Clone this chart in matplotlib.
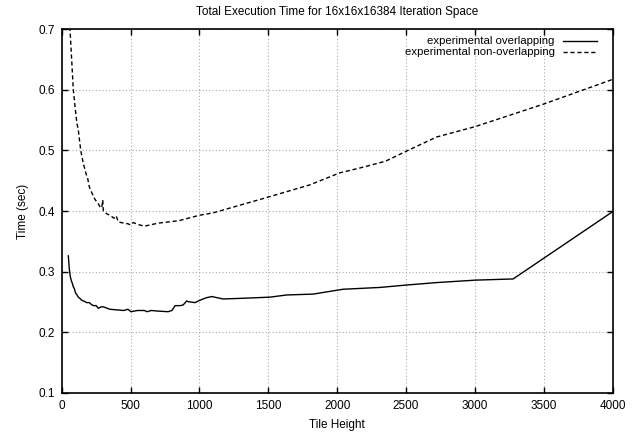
import matplotlib
matplotlib.use("Agg")
import matplotlib.pyplot as plt
from matplotlib.lines import Line2D

plt.rcParams['font.family'] = ['Liberation Sans', 'DejaVu Sans']

# Data
tile_over = [48, 55, 62, 70, 78, 84, 92, 100, 110, 120, 132, 145, 155, 165, 181, 200, 215,
             230, 250, 266, 285, 302, 350, 400, 450, 480,
             503, 550, 600, 620, 650, 700, 772, 800, 823, 859, 881, 907, 919, 968, 1004, 1050,
             1089, 1171, 1300, 1512, 1633, 1825, 2042, 2310, 2505, 2722, 3000, 3277, 4000]
time_over = [0.326, 0.305, 0.292, 0.285, 0.280, 0.275, 0.272, 0.265, 0.262, 0.258, 0.256,
             0.253, 0.252, 0.251, 0.249, 0.249, 0.246, 0.244, 0.244, 0.2396, 0.242, 0.242,
             0.238, 0.237, 0.236, 0.238, 0.234, 0.236, 0.236, 0.234, 0.236, 0.235, 0.234,
             0.236, 0.244, 0.244, 0.245, 0.2516, 0.2505, 0.249, 0.253, 0.257, 0.259, 0.255,
             0.256, 0.258, 0.2616, 0.263, 0.271, 0.274, 0.278, 0.282, 0.286, 0.288, 0.399]

tile_non = [48, 60, 72, 84, 100, 110, 120, 130, 138, 155, 176, 190, 200, 215, 230, 245,
            255, 265, 278, 290, 298, 302, 330, 351, 380, 395, 411, 450, 480, 500, 520, 550,
            600, 700, 850, 1000, 1100, 1300, 1500, 1800, 2020, 2166, 2350, 2505, 2722,
            3000, 3495, 4000]
time_non = [0.76, 0.70, 0.65, 0.60, 0.565, 0.545, 0.534, 0.515, 0.50, 0.48, 0.462, 0.452,
            0.44, 0.432, 0.424, 0.418, 0.415, 0.412, 0.407, 0.405, 0.418, 0.40, 0.395,
            0.393, 0.388, 0.392, 0.382, 0.380, 0.379, 0.377, 0.381, 0.378, 0.375, 0.380,
            0.384, 0.393, 0.397, 0.410, 0.423, 0.443, 0.463, 0.471, 0.482, 0.499, 0.522,
            0.539, 0.576, 0.617]

labels = ["experimental overlapping", "experimental non-overlapping"]
xticks = [0, 500, 1000, 1500, 2000, 2500, 3000, 3500, 4000]
yticks = [0.1, 0.2, 0.3, 0.4, 0.5, 0.6, 0.7]

FS = 8.5

fig = plt.figure(figsize=(6.37, 4.33), dpi=100)
ax = fig.add_axes([0.0969, 0.0924, 0.865, 0.8406])

ax.plot(tile_over, time_over, color='black', lw=1.0, solid_joinstyle='miter')
ax.plot(tile_non, time_non, color='black', lw=1.0, linestyle=(0, (3, 2)))

ax.set_xlim(0, 4000)
ax.set_ylim(0.1, 0.7)
ax.set_xticks(xticks)
ax.set_yticks(yticks)
ax.set_xticklabels([str(t) for t in xticks])
ax.set_yticklabels([f"{t:.1f}" for t in yticks])
ax.tick_params(direction='in', top=True, right=True, labelsize=FS, length=4, width=1,
               pad=5)
ax.grid(True, color='#aaaaaa', linestyle=(0, (1, 2)), lw=0.8)
for s in ax.spines.values():
    s.set_linewidth(1.2)

ax.set_title("Total Execution Time for 16x16x16384 Iteration Space", fontsize=FS, pad=10)
ax.set_xlabel("Tile Height", fontsize=FS, labelpad=5)
ax.set_ylabel("Time (sec)", fontsize=FS, labelpad=7)

# gnuplot-style key: right-aligned text, sample on the right
styles = ['-', (0, (3, 2))]
ys = [0.967, 0.937]
for lab, st, yy in zip(labels, styles, ys):
    ax.text(0.895, yy, lab, transform=ax.transAxes, ha='right', va='center', fontsize=8.2)
    ax.add_line(Line2D([0.909, 0.971], [yy, yy], transform=ax.transAxes,
                       color='black', lw=1.0, linestyle=st))

fig.savefig("out.png", dpi=100)
